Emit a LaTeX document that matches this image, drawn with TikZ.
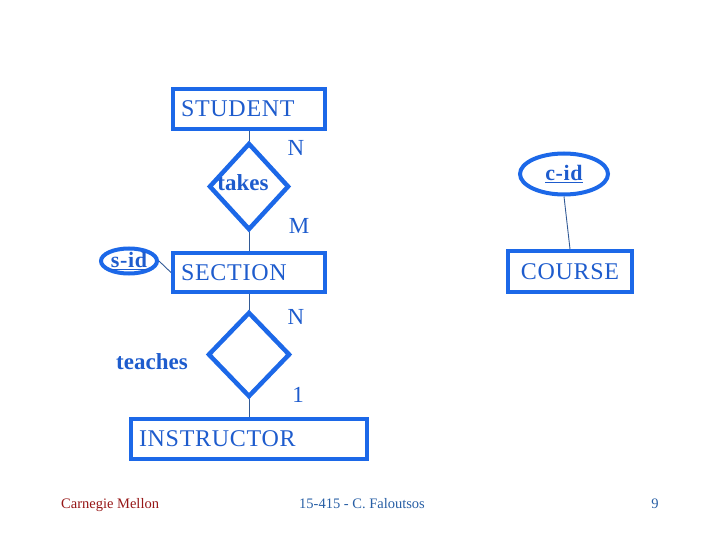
\documentclass[tikz,border=0pt]{standalone}
\usepackage{fontspec}
\setmainfont{Liberation Serif}
\newfontfamily\spacedfont[LetterSpace=3]{Liberation Serif}
\usetikzlibrary{shapes.geometric}
\definecolor{eblue}{RGB}{28,104,232}
\definecolor{tblue}{RGB}{30,92,205}
\definecolor{lblue}{RGB}{50,90,150}
\definecolor{cmured}{RGB}{150,22,22}
\definecolor{fblue}{RGB}{40,95,165}
\tikzset{
  ent/.style={draw=eblue, line width=4pt, minimum height=40pt, inner ysep=0pt, text=tblue,
     font=\fontsize{24}{26}\spacedfont},
  rel/.style={draw=eblue, line width=4.5pt, shape=diamond, inner sep=0pt},
  attr/.style={draw=eblue, line width=4pt, shape=ellipse, inner sep=0pt, text=tblue,
     font=\fontsize{22}{24}\spacedfont\bfseries},
  card/.style={text=tblue, font=\fontsize{23}{25}\selectfont, inner sep=0pt},
  rlabel/.style={text=tblue, font=\fontsize{23}{25}\selectfont\bfseries, inner sep=0pt},
  conn/.style={draw=lblue, line width=0.9pt},
  foot/.style={font=\fontsize{14.5}{16}\selectfont, inner sep=0pt}
}
\begin{document}
\begin{tikzpicture}[x=1pt,y=-1pt]
\useasboundingbox (0,0) rectangle (720,540);
% entities
\node[ent, text width=136pt, inner xsep=8pt, align=left] (student) at (249,109) {STUDENT};
\node[ent, text width=136pt, inner xsep=8pt, align=left, minimum height=39pt] (section) at (249,272.5) {SECTION};
\node[ent, minimum width=124pt, minimum height=41pt] (course) at (570,271.5) {COURSE};
\node[ent, text width=220pt, inner xsep=8pt, align=left] (instructor) at (249,439) {INSTRUCTOR};
% relationships
\node[rel, minimum width=80pt, minimum height=87pt] (takes) at (249,186.5) {};
\node[rel, minimum width=82pt, minimum height=85pt] (teaches) at (249,354.5) {};
% attributes
\node[attr, minimum width=56pt, minimum height=25pt] (sid) at (129,261) {\underline{s-id}};
\node[attr, minimum width=88pt, minimum height=41pt] (cid) at (564,174) {\underline{c-id}};
% relationship labels
\node[rlabel] (takeslbl) at (243,183) {takes};
\node[rlabel] (teacheslbl) at (152,362) {teaches};
% cardinalities
\node[card] (n1) at (296,148) {N};
\node[card] (m1) at (299,226) {M};
\node[card] (n2) at (296,317) {N};
\node[card] (one) at (298,395) {1};
% connectors
\draw[conn] (student.south) -- (takes.north);
\draw[conn] (takes.south) -- (section.north);
\draw[conn] (section.south) -- (teaches.north);
\draw[conn] (teaches.south) -- (instructor.north);
\draw[conn] (sid.east) -- (section.west);
\draw[conn] (cid.south) -- (course.north);
% footer
\node[foot, text=cmured, anchor=base west] (cmu) at (61,508) {Carnegie Mellon};
\node[foot, text=fblue, anchor=base west] (course415) at (299,508) {15-415 - C. Faloutsos};
\node[foot, text=fblue, anchor=base] (page) at (655,508) {9};
\end{tikzpicture}
\end{document}
